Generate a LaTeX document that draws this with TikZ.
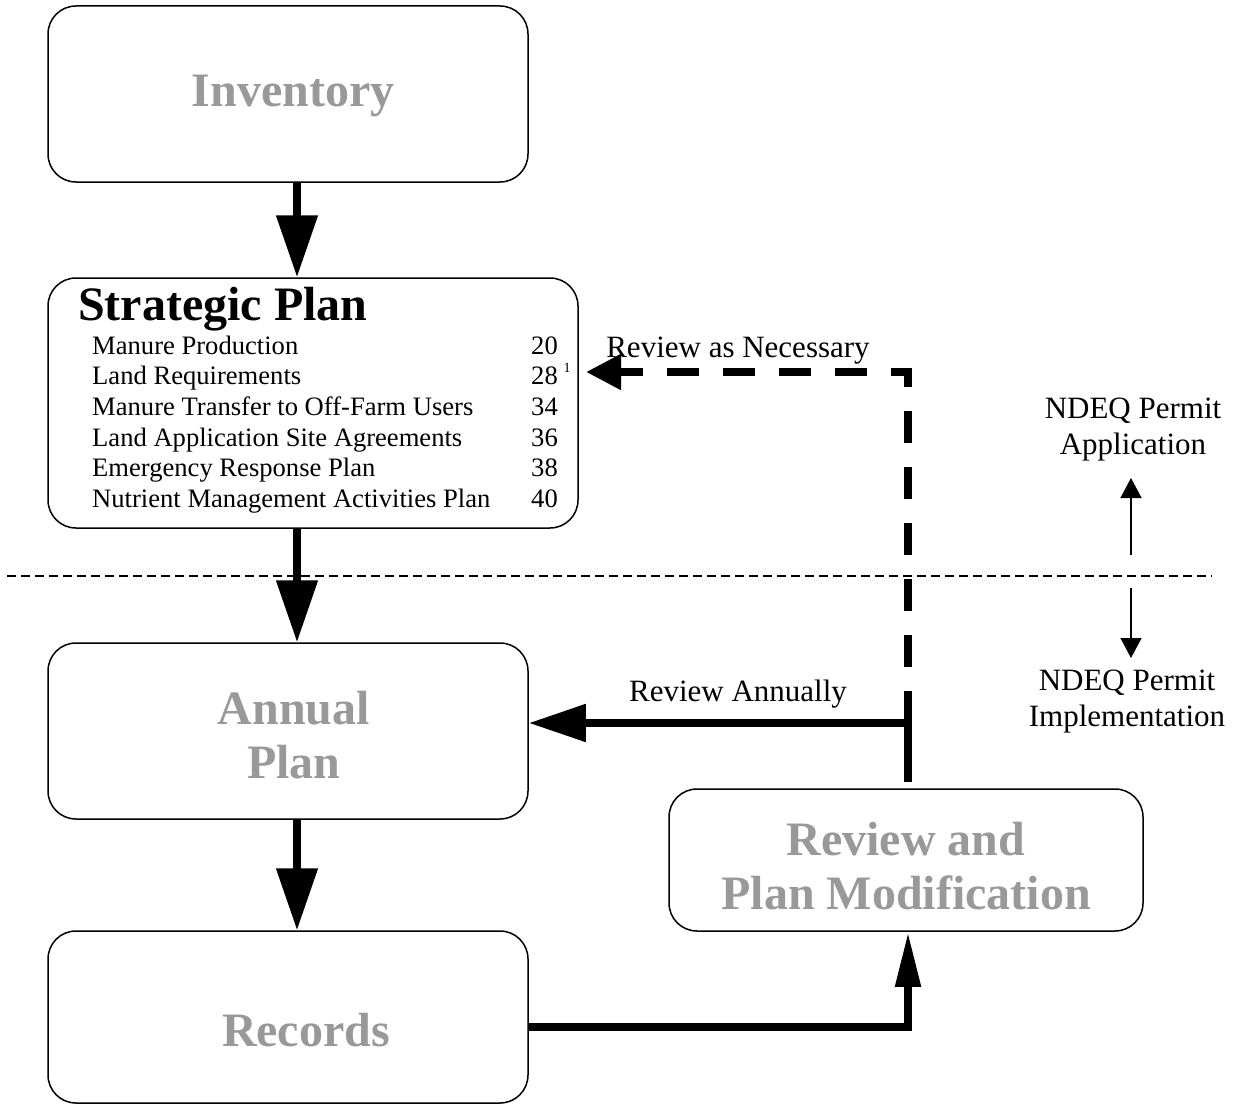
\documentclass[tikz,border=0pt]{standalone}
\usepackage{fontspec}
\setmainfont{Liberation Serif}
\usetikzlibrary{arrows.meta}
\definecolor{boxgray}{RGB}{153,153,153}
\tikzset{
  stage/.style={draw, line width=1.5pt, rounded corners=28pt, inner sep=0pt},
  stagetext/.style={text=boxgray, font=\bfseries\fontsize{48}{54}\selectfont, align=center, inner sep=0pt},
  listtext/.style={font=\fontsize{26.6}{30}\selectfont, inner sep=0pt},
  labeltext/.style={font=\fontsize{31}{36}\selectfont, inner sep=0pt, align=center},
  flow/.style={line width=8pt, -{Triangle[length=62pt,width=40pt]}},
  divider/.style={line width=1.5pt, dash pattern=on 9pt off 5pt},
  permit/.style={line width=1.5pt, -{Triangle[length=20pt,width=21pt]}}
}
\begin{document}
\begin{tikzpicture}[x=1pt,y=-1pt]
\useasboundingbox (0,0) rectangle (1239,1105);

% stage boxes
\node[stage, minimum width=480pt, minimum height=176pt] (inv) at (288,94) {};
\node[stage, minimum width=530pt, minimum height=250pt] (strat) at (313,403) {};
\node[stage, minimum width=480pt, minimum height=176pt] (ann) at (288,731) {};
\node[stage, minimum width=480pt, minimum height=172pt] (rec) at (288,1017) {};
\node[stage, minimum width=474pt, minimum height=142pt] (rev) at (906,860) {};

% box titles
\node[stagetext] (invt) at (293,96) {Inventory};
\node[stagetext] (annt) at (294,735) {Annual\\Plan};
\node[stagetext] (revt) at (906,866) {Review and\\Plan Modification};
\node[stagetext] (rect) at (306,1030) {Records};

% strategic plan contents
\node[anchor=base west, inner sep=0pt, font=\bfseries\fontsize{48}{54}\selectfont] (stt) at (78,320) {Strategic Plan};
\foreach \i/\txt/\pg/\yy in {1/Manure Production/20/354, 2/Land Requirements/28/384,
  3/Manure Transfer to Off-Farm Users/34/415, 4/Land Application Site Agreements/36/446,
  5/Emergency Response Plan/38/476, 6/Nutrient Management Activities Plan/40/507}{
  \node[listtext, anchor=base west] (item\i) at (92,\yy) {\txt};
  \node[listtext, anchor=base east] (page\i) at (558,\yy) {\pg};
}
\node[inner sep=0pt, font=\fontsize{14}{16}\selectfont] (note) at (567,368) {1};

% main flow
\coordinate (ax) at (297,0);
\draw[flow] (inv.south -| ax) -- (strat.north -| ax);
\draw[flow] (strat.south -| ax) -- (ann.north -| ax);
\draw[flow] (ann.south -| ax) -- (rec.north -| ax);

% records to review
\coordinate (rx) at (908,0);
\coordinate (ry) at (0,1027);
\draw[line width=8pt, -{Triangle[length=55pt,width=24pt]}] (rec.east |- ry) -| (rev.south -| rx);

% feedback from review
\coordinate (vb) at (908,782);
\coordinate (jn) at (908,723);
\coordinate (vt) at (908,691);
\coordinate (c1) at (908,372);
\coordinate (dt) at (586,372);
\draw[line width=8pt] (vb) -- (vt);
\draw[line width=8pt, -{Triangle[length=57pt,width=36pt]}] (jn) -- (ann.east |- jn);
\draw[line width=8pt, dash pattern=on 32pt off 24pt, dash phase=32pt, -{Triangle[length=35pt,width=34pt]}] (vt) -- (c1) -- (dt);

\node[labeltext, anchor=base] (rnec) at (738,357) {Review as Necessary};
\node[labeltext, anchor=base] (rann) at (738,701) {Review Annually};

% permit divider
\coordinate (dl) at (7,576);
\coordinate (dr) at (1212,576);
\draw[divider] (dl) -- (dr);
\node[labeltext] (papp) at (1133,430) {NDEQ Permit\\Application};
\node[labeltext] (pimp) at (1127,702) {NDEQ Permit\\Implementation};
\coordinate (pu0) at (1131,555);
\coordinate (pu1) at (1131,478);
\coordinate (pd0) at (1131,588);
\coordinate (pd1) at (1131,658);
\draw[permit] (pu0) -- (pu1);
\draw[permit] (pd0) -- (pd1);
\end{tikzpicture}
\end{document}
